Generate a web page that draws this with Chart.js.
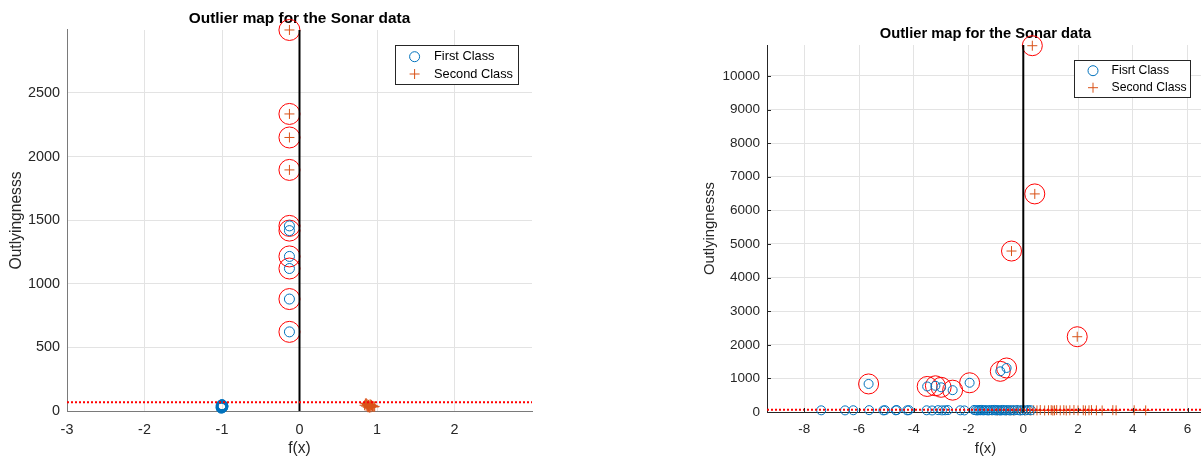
<!DOCTYPE html>
<html>
<head>
<meta charset="utf-8">
<script src="https://cdn.jsdelivr.net/npm/chart.js@4.4.1/dist/chart.umd.min.js"></script>
<style>
  html, body { margin: 0; padding: 0; background: #fff; width: 1201px; height: 460px; overflow: hidden; }
  #leftMap { position: absolute; left: 0; top: 0; }
  #rightMap { position: absolute; left: 600px; top: 0; }
</style>
</head>
<body>
<canvas id="leftMap" width="600" height="460"></canvas>
<canvas id="rightMap" width="615" height="460"></canvas>
<script>
// Outlier map for the Sonar data - two panels side by side

// ---- left panel data ----
const leftXTicks = [-3, -2, -1, 0, 1, 2];
const leftYTicks = [0, 500, 1000, 1500, 2000, 2500];
const leftFirstX = [-1.01, -1.00, -0.99, -1.00, -1.01, -0.99, -1.00, -1.00, -1.01, -0.99,
                    -1.00, -1.00, -0.99, -1.01, -1.00, -1.00, -1.00, -0.99, -1.01, -1.00,
                    -0.13, -0.13, -0.13, -0.13, -0.13, -0.13];
const leftFirstY = [22, 28, 31, 35, 38, 42, 46, 50, 27, 33,
                    40, 44, 37, 30, 25, 48, 36, 41, 45, 32,
                    1455, 1418, 1215, 1120, 880, 622];
const leftSecondX = [0.84, 0.86, 0.87, 0.88, 0.89, 0.90, 0.91, 0.92, 0.93, 0.94, 0.95, 0.96,
                     0.86, 0.88, 0.90, 0.92, 0.94, 0.85, 0.89, 0.93, 0.97, 0.87, 0.91,
                     -0.13, -0.13, -0.13, -0.13];
const leftSecondY = [45, 38, 55, 30, 48, 36, 52, 28, 44, 34, 40, 32,
                     62, 42, 25, 50, 38, 58, 33, 46, 36, 50, 41,
                     2995, 2335, 2150, 1895];
const leftOutX = [-0.13, -0.13, -0.13, -0.13, -0.13, -0.13, -0.13, -0.13, -0.13, -0.13];
const leftOutY = [2995, 2335, 2150, 1895, 1455, 1418, 1215, 1120, 880, 622];
const leftCutoff = 68;

// ---- right panel data ----
const rightXTicks = [-8, -6, -4, -2, 0, 2, 4, 6];
const rightYTicks = [0, 1000, 2000, 3000, 4000, 5000, 6000, 7000, 8000, 9000, 10000];
const rightFirstX = [-7.38, -6.51, -6.21, -5.63, -5.11, -5.05, -4.66, -4.62, -4.24, -4.18,
                     -3.53, -3.33, -3.11, -2.97, -2.85, -2.75, -2.30, -2.15, -1.80, -1.74,
                     -1.68, -1.62, -1.57, -1.52, -1.46, -1.40, -1.33, -1.27, -1.20, -1.13,
                     -1.06, -1.00, -0.94, -0.88, -0.82, -0.76, -0.70, -0.64, -0.56, -0.48,
                     -0.40, -0.32, -0.22, -0.12, -0.03, 0.08, 0.18, 0.28,
                     -5.65, -3.51, -3.21, -3.00, -2.58, -1.96, -0.84, -0.61];
const rightFirstY = [50, 48, 52, 55, 47, 53, 50, 58, 49, 54,
                     51, 46, 55, 48, 52, 57, 50, 47, 60, 53,
                     45, 58, 50, 62, 48, 55, 52, 46, 59, 51,
                     63, 47, 56, 50, 45, 61, 52, 48, 57, 44,
                     55, 50, 58, 46, 53, 49, 60, 51,
                     835, 760, 780, 735, 650, 870, 1210, 1310];
const rightSecondX = [-1.15, -0.95, -0.80, -0.62, -0.48, -0.35, -0.22, -0.10, 0.05, 0.15,
                      0.25, 0.38, 0.50, 0.62, 0.78, 0.92, 1.02, 1.08, 1.14, 1.22,
                      1.35, 1.48, 1.57, 1.70, 1.85, 2.00, 2.19, 2.27, 2.40, 2.49,
                      2.67, 2.88, 3.27, 3.39, 4.05, 4.47,
                      0.33, 0.42, -0.43, 1.97];
const rightSecondY = [52, 45, 58, 48, 55, 42, 60, 50, 47, 56,
                      44, 53, 49, 58, 46, 52, 55, 43, 50, 57,
                      48, 54, 45, 52, 58, 47, 53, 44, 51, 56,
                      49, 46, 54, 50, 52, 48,
                      10900, 6490, 4790, 2240];
const rightOutX = [0.33, 0.42, -0.43, 1.97, -5.65, -3.51, -3.21, -3.00, -2.58, -1.96, -0.84, -0.61];
const rightOutY = [10900, 6490, 4790, 2240, 835, 760, 780, 735, 650, 870, 1210, 1310];
const rightCutoff = 68;

// ---- colours ----
const BLUE = '#0072BD';
const ORANGE = '#D95319';
const RED = '#FF0000';
const FONT = "'Liberation Sans', Arial, Helvetica, sans-serif";

Chart.defaults.font.family = FONT;

function toPoints(xs, ys) {
    return xs.map((x, i) => ({ x: x, y: ys[i] }));
}

// legend box drawn inside the plot, like the matlab one
const legendBox = {
    id: 'legendBox',
    afterDraw(chart, args, o) {
        const ctx = chart.ctx;
        ctx.save();
        ctx.fillStyle = '#fff';
        ctx.fillRect(o.x, o.y, o.w, o.h);
        ctx.strokeStyle = '#262626';
        ctx.lineWidth = 1;
        ctx.strokeRect(o.x + 0.5, o.y + 0.5, o.w, o.h);
        chart.data.datasets.slice(0, 2).forEach((ds, i) => {
            const cy = o.rows[i];
            ctx.strokeStyle = ds.borderColor;
            ctx.lineWidth = 1;
            ctx.beginPath();
            if (ds.pointStyle === 'circle') {
                ctx.arc(o.markX, cy, o.markR, 0, Math.PI * 2);
            } else {
                ctx.moveTo(o.markX - o.markR, cy);
                ctx.lineTo(o.markX + o.markR, cy);
                ctx.moveTo(o.markX, cy - o.markR);
                ctx.lineTo(o.markX, cy + o.markR);
            }
            ctx.stroke();
            ctx.fillStyle = '#000';
            ctx.font = o.fontSize + 'px ' + FONT;
            ctx.textBaseline = 'middle';
            ctx.textAlign = 'left';
            ctx.fillText(ds.label, o.textX, cy);
        });
        ctx.restore();
    }
};

// small tick marks pointing into the plot
const innerTicks = {
    id: 'innerTicks',
    afterDraw(chart, args, o) {
        if (!o.show) return;
        const ctx = chart.ctx;
        const xs = chart.scales.x, ys = chart.scales.y, area = chart.chartArea;
        ctx.save();
        ctx.strokeStyle = o.color;
        ctx.lineWidth = 1;
        ctx.beginPath();
        xs.ticks.forEach(t => {
            const px = Math.round(xs.getPixelForValue(t.value)) + 0.5;
            ctx.moveTo(px, area.bottom);
            ctx.lineTo(px, area.bottom - o.len);
        });
        ys.ticks.forEach(t => {
            const py = Math.round(ys.getPixelForValue(t.value)) + 0.5;
            ctx.moveTo(area.left, py);
            ctx.lineTo(area.left + o.len, py);
        });
        ctx.stroke();
        ctx.restore();
    }
};

function makeMap(id, s) {
    return new Chart(document.getElementById(id), {
        type: 'scatter',
        data: {
            datasets: [
                {
                    label: s.firstLabel,
                    data: toPoints(s.firstX, s.firstY),
                    pointStyle: 'circle',
                    pointRadius: s.markR,
                    borderColor: BLUE,
                    backgroundColor: 'rgba(0,0,0,0)',
                    borderWidth: 1,
                    clip: false,
                    order: 2
                },
                {
                    label: 'Second Class',
                    data: toPoints(s.secondX, s.secondY),
                    pointStyle: 'cross',
                    pointRadius: s.plusR,
                    borderColor: ORANGE,
                    backgroundColor: ORANGE,
                    borderWidth: 1,
                    clip: false,
                    order: 2
                },
                {
                    label: 'flagged',
                    data: toPoints(s.outX, s.outY),
                    pointStyle: 'circle',
                    pointRadius: s.flagR,
                    borderColor: RED,
                    backgroundColor: 'rgba(0,0,0,0)',
                    borderWidth: 1,
                    clip: false,
                    order: 3
                },
                {
                    label: 'zero',
                    data: [{ x: 0, y: 0 }, { x: 0, y: s.yMax }],
                    showLine: true,
                    borderColor: '#000',
                    borderWidth: 2,
                    pointRadius: 0,
                    order: 1
                },
                {
                    label: 'cutoff',
                    data: [{ x: s.xMin, y: s.cutoff }, { x: s.xMax, y: s.cutoff }],
                    showLine: true,
                    borderColor: RED,
                    borderWidth: 2,
                    borderDash: [2, 2],
                    pointRadius: 0,
                    order: 0
                }
            ]
        },
        options: {
            responsive: false,
            animation: false,
            events: [],
            layout: { padding: { left: 0, right: s.padRight, top: 0, bottom: 0 } },
            scales: {
                x: {
                    type: 'linear',
                    min: s.xMin,
                    max: s.xMax,
                    afterBuildTicks: sc => { sc.ticks = s.xTicks.map(v => ({ value: v })); },
                    ticks: {
                        color: '#262626',
                        font: { size: s.tickSize },
                        padding: s.xTickPad,
                        maxRotation: 0,
                        autoSkip: false,
                        callback: v => String(v)
                    },
                    grid: { color: '#e3e3e3', drawTicks: false },
                    border: { color: s.axisColor, width: 1 },
                    title: {
                        display: true,
                        text: 'f(x)',
                        color: '#262626',
                        font: { size: s.labelSize },
                        padding: { top: 0, bottom: s.xTitlePad }
                    },
                    afterFit: sc => { sc.height = s.xAxisH; }
                },
                y: {
                    type: 'linear',
                    min: 0,
                    max: s.yMax,
                    afterBuildTicks: sc => { sc.ticks = s.yTicks.map(v => ({ value: v })); },
                    ticks: {
                        color: '#262626',
                        font: { size: s.tickSize },
                        padding: s.yTickPad,
                        autoSkip: false,
                        callback: v => String(v)
                    },
                    grid: { color: '#e3e3e3', drawTicks: false },
                    border: { color: s.axisColor, width: 1 },
                    title: {
                        display: true,
                        text: 'Outlyingnesss',
                        color: '#262626',
                        font: { size: s.labelSize },
                        padding: { top: s.yTitlePad, bottom: 0 }
                    },
                    afterFit: sc => { sc.width = s.yAxisW; }
                }
            },
            plugins: {
                legend: { display: false },
                tooltip: { enabled: false },
                title: {
                    display: true,
                    text: 'Outlier map for the Sonar data',
                    color: '#000',
                    fullSize: false,
                    font: { size: s.titleSize, weight: 'bold' },
                    padding: { top: s.titleTop, bottom: s.titleBottom }
                },
                legendBox: s.legend,
                innerTicks: { show: s.innerTicks, color: s.axisColor, len: 4 }
            }
        },
        plugins: [legendBox, innerTicks]
    });
}

makeMap('leftMap', {
    firstLabel: 'First Class',
    firstX: leftFirstX, firstY: leftFirstY,
    secondX: leftSecondX, secondY: leftSecondY,
    outX: leftOutX, outY: leftOutY,
    cutoff: leftCutoff,
    xTicks: leftXTicks, yTicks: leftYTicks,
    xMin: -3, xMax: 3,
    yMax: 2995,
    markR: 5, plusR: 5, flagR: 10.5,
    padRight: 68, yAxisW: 67, xAxisH: 49,
    tickSize: 14.4, labelSize: 15.6, titleSize: 15.4,
    titleTop: 10, titleBottom: 1.5,
    xTickPad: 10, yTickPad: 7,
    yTitlePad: 7, xTitlePad: 2,
    axisColor: '#7a7a7a',
    innerTicks: false,
    legend: { x: 395, y: 45, w: 123, h: 39, markX: 414.6, markR: 5, textX: 434, rows: [56.7, 74.0], fontSize: 12.8 }
});

makeMap('rightMap', {
    firstLabel: 'Fisrt Class',
    firstX: rightFirstX, firstY: rightFirstY,
    secondX: rightSecondX, secondY: rightSecondY,
    outX: rightOutX, outY: rightOutY,
    cutoff: rightCutoff,
    xTicks: rightXTicks, yTicks: rightYTicks,
    xMin: -9.36, xMax: 6.6,
    yMax: 10920,
    markR: 4.5, plusR: 5, flagR: 10,
    padRight: 8, yAxisW: 167, xAxisH: 48,
    tickSize: 13.5, labelSize: 14.8, titleSize: 14.7,
    titleTop: 25.5, titleBottom: 1.9,
    xTickPad: 9, yTickPad: 7,
    yTitlePad: 101, xTitlePad: 2,
    axisColor: '#262626',
    innerTicks: true,
    legend: { x: 474, y: 60, w: 116, h: 37, markX: 493, markR: 5, textX: 511.5, rows: [70.7, 87.7], fontSize: 12.2 }
});
</script>
</body>
</html>
